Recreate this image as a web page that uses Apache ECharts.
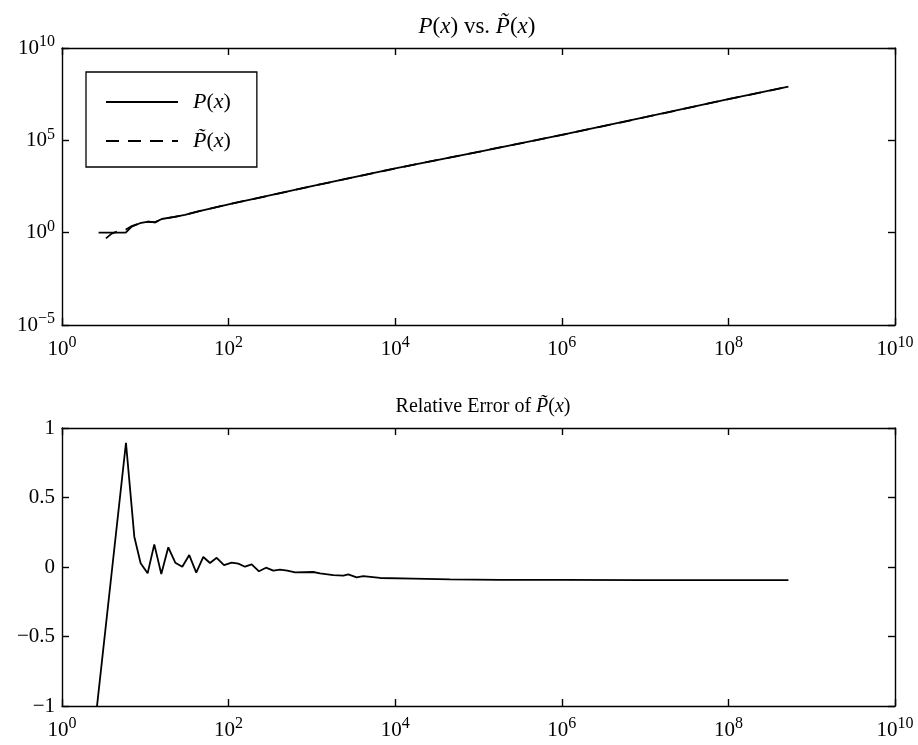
<!DOCTYPE html>
<html>
<head>
<meta charset="utf-8">
<script src="https://cdn.jsdelivr.net/npm/echarts@6/dist/echarts.min.js"></script>
<style>
html, body { margin: 0; padding: 0; background: #fff; }
#main { width: 918px; height: 745px; }
</style>
</head>
<body>
<div id="main"></div>
<script>
// upper panel: P(x) (solid) and P~(x) (dashed)
var pX = [2.75, 5.82, 6.87, 8.63, 10.86, 13.06, 15.74, 22.4, 29.9, 43.3, 100, 1000, 1e4, 1e5, 1e6, 1e7, 1e8, 5.25e8];
var pY = [1, 1, 2.14, 3.24, 3.98, 3.63, 5.5, 7.08, 9.33, 14.1, 34, 330, 3000, 24000, 195000, 1.78e6, 1.7e7, 8.1e7];

// the dashed curve only shows apart from the solid one at the very start
var ptX = [3.37, 3.95, 4.57, 5.86, 6.87, 8.63, 10.86, 13.06, 15.74, 22.4, 29.9, 43.3, 100, 1000, 1e4, 1e5, 1e6, 1e7, 1e8, 5.25e8];
var ptY = [0.49, 0.89, 1.15, 1.5, 2.3, 3.24, 3.98, 3.63, 5.5, 7.08, 9.33, 14.1, 34, 330, 3000, 24000, 195000, 1.78e6, 1.7e7, 8.1e7];

// lower panel: relative error of P~(x)
var errX = [2, 5.86, 7.38, 8.79, 10.67, 12.82, 15.56, 18.88, 22.9, 27.8, 33.7, 40.9, 49.7, 59.8, 71.9, 88.1,
  108.9, 130.9, 157.4, 189.2, 231.7, 281.2, 344.4, 414, 507, 627, 1040, 1250, 1807, 2382, 2735, 3443, 4140,
  6561, 16480, 45500, 181100, 1e6, 1e7, 1e8, 5.25e8];
var errY = [-1.65, 0.894, 0.218, 0.027, -0.045, 0.163, -0.050, 0.142, 0.031, 0.002, 0.086, -0.041, 0.072, 0.029, 0.066, 0.013,
  0.032, 0.024, 0.002, 0.019, -0.031, -0.005, -0.026, -0.019, -0.026, -0.038, -0.036, -0.046, -0.058, -0.062, -0.053, -0.074, -0.065,
  -0.079, -0.084, -0.089, -0.092, -0.093, -0.094, -0.094, -0.094];

var xMin = 1, xMax = 1e10;
var yTopMin = 1e-5, yTopMax = 1e10;
var errMin = -1, errMax = 1;

function pairs(xs, ys) {
    var out = [];
    for (var i = 0; i < xs.length; i++) out.push([xs[i], ys[i]]);
    return out;
}

var FONT = 'Liberation Serif';
var rich = {
    n: { fontFamily: FONT, fontSize: 20, color: '#000' },
    i: { fontFamily: FONT, fontSize: 20, fontStyle: 'italic', color: '#000' },
    b: { fontFamily: FONT, fontSize: 21, color: '#000', lineHeight: 28 },
    e: { fontFamily: FONT, fontSize: 16, color: '#000', verticalAlign: 'top', lineHeight: 16 }
};
var richBig = {
    n: { fontFamily: FONT, fontSize: 23, color: '#000' },
    i: { fontFamily: FONT, fontSize: 23, fontStyle: 'italic', color: '#000' }
};
var richLegend = {
    n: { fontFamily: FONT, fontSize: 22, color: '#000' },
    i: { fontFamily: FONT, fontSize: 22, fontStyle: 'italic', color: '#000' }
};

function powLabel(v) {
    var e = Math.round(Math.log10(v));
    return '{b|10}{e|' + String(e).replace('-', '\u2212') + '}';
}

function box(extra) {
    var a = {
        axisLine: { show: true, onZero: false, lineStyle: { color: '#000', width: 1.4 } },
        axisTick: { show: true, inside: true, length: 7, lineStyle: { color: '#000', width: 1.4 } },
        splitLine: { show: false },
        minorTick: { show: false }
    };
    for (var k in extra) a[k] = extra[k];
    return a;
}

var myChart = echarts.init(document.getElementById('main'));
myChart.setOption({
    backgroundColor: '#fff',
    animation: false,
    title: [
        {
            text: '{i|P}{n|(}{i|x}{n|) vs. }{i|P\u0303}{n|(}{i|x}{n|)}',
            left: 472, top: 10, textAlign: 'center',
            textStyle: { rich: richBig, fontFamily: FONT, fontSize: 23, fontWeight: 'normal', color: '#000' }
        },
        {
            text: '{n|Relative Error of }{i|P\u0303}{n|(}{i|x}{n|)}',
            left: 478, top: 392, textAlign: 'center',
            textStyle: { rich: rich, fontFamily: FONT, fontSize: 20, fontWeight: 'normal', color: '#000' }
        }
    ],
    legend: {
        left: 86, top: 72,
        orient: 'vertical',
        padding: [19, 26, 15, 19],
        itemWidth: 72, itemHeight: 14, itemGap: 17,
        borderColor: '#000', borderWidth: 1.3,
        itemStyle: { opacity: 0 },
        data: ['P', 'Pt'],
        formatter: function (name) {
            return name === 'P' ? '{i|P}{n|(}{i|x}{n|)}' : '{i|P\u0303}{n|(}{i|x}{n|)}';
        },
        textStyle: { padding: [0, 0, 0, 10], rich: richLegend }
    },
    grid: [
        { left: 62, top: 48, width: 833, height: 277 },
        { left: 62, top: 428, width: 833, height: 278 }
    ],
    xAxis: [
        box({ gridIndex: 0, type: 'log', logBase: 10, min: xMin, max: xMax, interval: 2, position: 'bottom',
            axisLabel: { margin: 10, formatter: powLabel, rich: rich } }),
        box({ gridIndex: 0, type: 'log', logBase: 10, min: xMin, max: xMax, interval: 2, position: 'top',
            axisLabel: { show: false } }),
        box({ gridIndex: 1, type: 'log', logBase: 10, min: xMin, max: xMax, interval: 2, position: 'bottom',
            axisLabel: { margin: 10, formatter: powLabel, rich: rich } }),
        box({ gridIndex: 1, type: 'log', logBase: 10, min: xMin, max: xMax, interval: 2, position: 'top',
            axisLabel: { show: false } })
    ],
    yAxis: [
        box({ gridIndex: 0, type: 'log', logBase: 10, min: yTopMin, max: yTopMax, interval: 5, position: 'left',
            axisLabel: { margin: 7, formatter: powLabel, rich: rich } }),
        box({ gridIndex: 0, type: 'log', logBase: 10, min: yTopMin, max: yTopMax, interval: 5, position: 'right',
            axisLabel: { show: false } }),
        box({ gridIndex: 1, type: 'value', min: errMin, max: errMax, interval: 0.5, position: 'left',
            axisLabel: { margin: 7, fontFamily: FONT, fontSize: 21, color: '#000',
                formatter: function (v) { return String(v).replace('-', '\u2212'); } } }),
        box({ gridIndex: 1, type: 'value', min: errMin, max: errMax, interval: 0.5, position: 'right',
            axisLabel: { show: false } })
    ],
    series: [
        {
            name: 'P', type: 'line', xAxisIndex: 0, yAxisIndex: 0,
            symbol: 'none', data: pairs(pX, pY),
            itemStyle: { color: '#000' },
            lineStyle: { color: '#000', width: 1.8, type: 'solid' }
        },
        {
            name: 'Pt', type: 'line', xAxisIndex: 0, yAxisIndex: 0,
            symbol: 'none', data: pairs(ptX, ptY),
            itemStyle: { color: '#000' },
            lineStyle: { color: '#000', width: 1.8, type: [13, 9] }
        },
        {
            name: 'err', type: 'line', xAxisIndex: 2, yAxisIndex: 2,
            symbol: 'none', clip: true, data: pairs(errX, errY),
            lineStyle: { color: '#000', width: 1.8 }
        }
    ]
});
</script>
</body>
</html>
